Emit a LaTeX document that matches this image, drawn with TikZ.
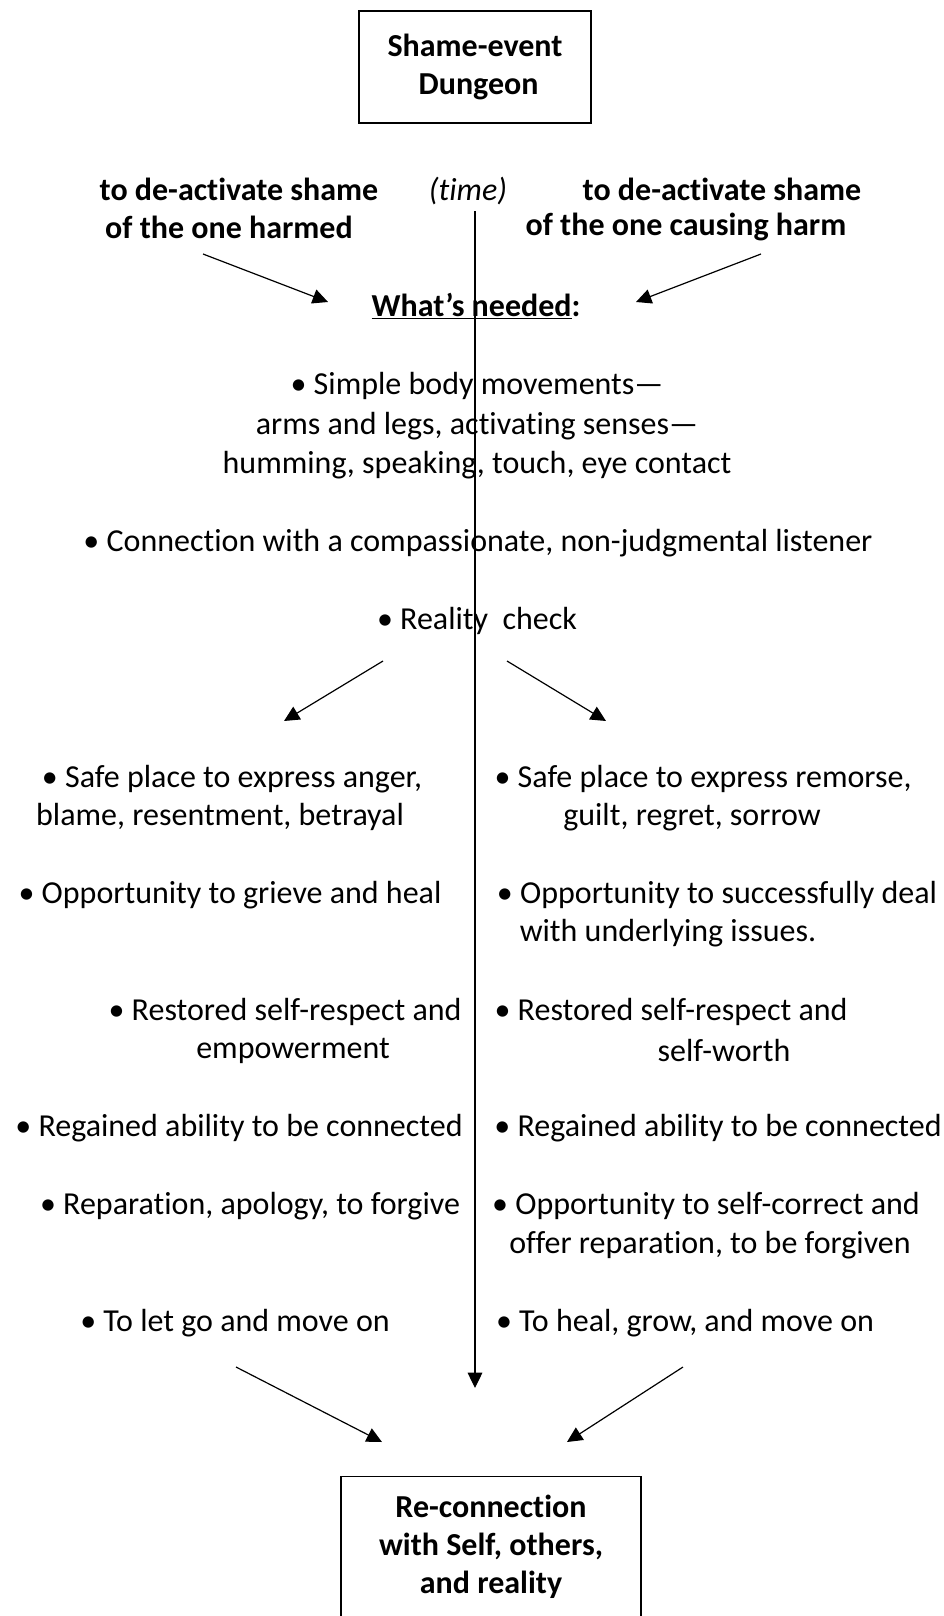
\documentclass[tikz,border=0pt]{standalone}
\usepackage{fontspec}
\setmainfont{Carlito}[Ligatures=NoCommon]
\usetikzlibrary{arrows.meta}
\tikzset{
  txt/.style={inner sep=0pt, yshift=-2pt, font=\fontsize{24}{28.5}\selectfont},
  head/.style={inner sep=0pt, yshift=0.5pt, align=center, font=\fontsize{24}{28.5}\selectfont\bfseries},
  box/.style={draw, line width=1pt, inner sep=0pt, align=center,
    font=\fontsize{24}{28.5}\selectfont\bfseries},
  arr/.style={-{Triangle[length=11.5pt,width=11pt]}, line width=0.9pt}
}
\begin{document}
\begin{tikzpicture}[x=0.75pt, y=-0.75pt]
\useasboundingbox (0,0) rectangle (943,1616);
% boxes at top and bottom
\node[box, minimum width=174pt, minimum height=84pt] (dungeon) at (475,67) {Shame-event\\\ Dungeon};
\node[box, minimum width=225pt, minimum height=106pt] (reconn) at (491,1547) {Re-connection\\with Self, others,\\and reality};
%
\node[head] (harmedA) at (239,190) {to de-activate shame};
\node[head] (harmedB) at (229,228) {of the one harmed};
\node[txt, font=\fontsize{24}{28.5}\selectfont\itshape] (time) at (468,188) {(time)};
\node[head] (causingA) at (722,190) {to de-activate shame};
\node[head] (causingB) at (686,228) {of the one causing harm};
\node[head] (needed) at (476,307) {\underline{What’s needed}:};
%
\node[txt] (m1) at (477,383) {• Simple body movements—};
\node[txt] (m2) at (477,423) {arms and legs, activating senses—};
\node[txt] (m3) at (477,462) {humming, speaking, touch, eye contact};
\node[txt] (m4) at (478,540) {• Connection with a compassionate, non-judgmental listener};
\node[txt] (m5) at (477,618) {• Reality\ \ check};
% left column
\node[txt] (l1a) at (232,776) {• Safe place to express anger,};
\node[txt] (l1b) at (220,814) {blame, resentment, betrayal};
\node[txt] (l2) at (230,892) {• Opportunity to grieve and heal};
\node[txt] (l3a) at (285,1009) {• Restored self-respect and};
\node[txt] (l3b) at (293,1048) {empowerment};
\node[txt] (l4) at (239,1125) {• Regained ability to be connected};
\node[txt] (l5) at (250,1203) {• Reparation, apology, to forgive};
\node[txt] (l6) at (235,1320) {• To let go and move on};
% right column
\node[txt] (r1a) at (703,776) {• Safe place to express remorse,};
\node[txt] (r1b) at (692,814) {guilt, regret, sorrow};
\node[txt] (r2a) at (717,892) {• Opportunity to successfully deal};
\node[txt] (r2b) at (668,930) {with underlying issues.};
\node[txt] (r3a) at (671,1009) {• Restored self-respect and};
\node[txt] (r3b) at (724,1048) {self-worth};
\node[txt] (r4) at (718,1125) {• Regained ability to be connected};
\node[txt] (r5a) at (706,1203) {• Opportunity to self-correct and};
\node[txt] (r5b) at (710,1242) {offer reparation, to be forgiven};
\node[txt] (r6) at (685,1320) {• To heal, grow, and move on};
%
% arrow ends
\coordinate (tl0) at (203,254);  \coordinate (tl1) at (328,302);
\coordinate (tr0) at (761,254);  \coordinate (tr1) at (636,302);
\coordinate (ml0) at (383,661);  \coordinate (ml1) at (284,721);
\coordinate (mr0) at (507,661);  \coordinate (mr1) at (606,721);
\coordinate (bl0) at (236,1367); \coordinate (bl1) at (382,1442);
\coordinate (br0) at (683,1367); \coordinate (br1) at (567,1442);
\coordinate (t0) at (475,211);   \coordinate (t1) at (475,1388);
\draw[arr] (tl0) -- (tl1);
\draw[arr] (tr0) -- (tr1);
\draw[arr] (ml0) -- (ml1);
\draw[arr] (mr0) -- (mr1);
\draw[arr] (bl0) -- (bl1);
\draw[arr] (br0) -- (br1);
% time line
\draw[arr] (t0) -- (t1);
\end{tikzpicture}
\end{document}
